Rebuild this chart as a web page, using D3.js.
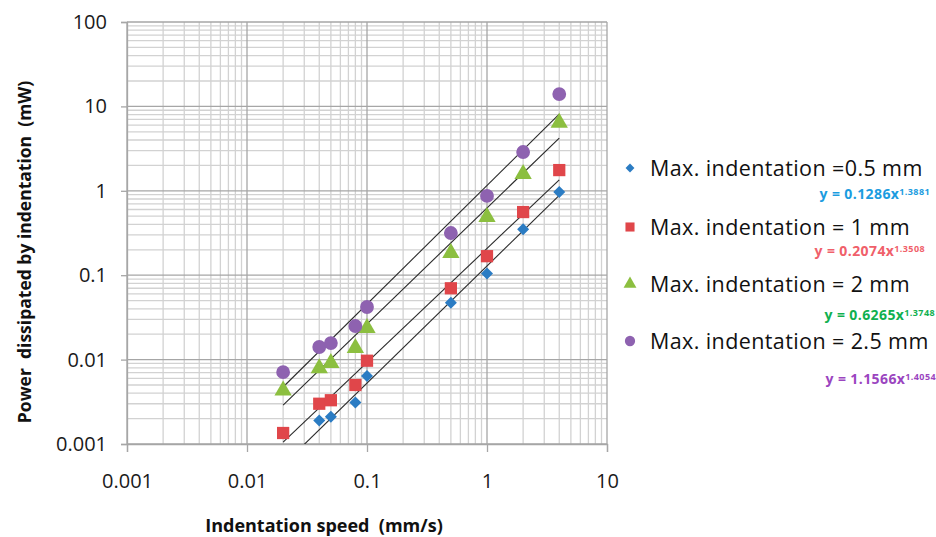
<!DOCTYPE html>
<html>
<head>
<meta charset="utf-8">
<script src="https://cdn.jsdelivr.net/npm/d3@7"></script>
<style>
  body { margin: 0; background: #fff; }
  svg text { font-family: "Open Sans", Lato, sans-serif; white-space: pre; }
</style>
</head>
<body>
<div id="chart"></div>
<script>
// data
var seriesNames = ["Max. indentation =0.5 mm", "Max. indentation = 1 mm", "Max. indentation = 2 mm", "Max. indentation = 2.5 mm"];
var speeds05 = [0.04, 0.05, 0.08, 0.1, 0.5, 1, 2, 4];
var power05 = [0.0019, 0.0021, 0.0031, 0.0064, 0.047, 0.105, 0.35, 0.97];
var speeds1 = [0.02, 0.04, 0.05, 0.08, 0.1, 0.5, 1, 2, 4];
var power1 = [0.00135, 0.003, 0.0033, 0.005, 0.0097, 0.07, 0.168, 0.56, 1.76];
var speeds2 = [0.02, 0.04, 0.05, 0.08, 0.1, 0.5, 1, 2, 4];
var power2 = [0.0043, 0.0079, 0.0091, 0.0137, 0.0237, 0.183, 0.49, 1.58, 6.4];
var speeds25 = [0.02, 0.04, 0.05, 0.08, 0.1, 0.5, 1, 2, 4];
var power25 = [0.0071, 0.0141, 0.0157, 0.025, 0.042, 0.316, 0.87, 2.88, 14.0];
var fitA = [0.1286, 0.2074, 0.6265, 1.1566];
var fitB = [1.3881, 1.3508, 1.3748, 1.4054];
var fitLabelA = ["0.1286", "0.2074", "0.6265", "1.1566"];
var fitLabelB = ["1.3881", "1.3508", "1.3748", "1.4054"];
var fitRange = [0.02, 4];
var xTicks = [0.001, 0.01, 0.1, 1, 10];
var yTicks = [0.001, 0.01, 0.1, 1, 10, 100];

var colors = ["#2b7cc3", "#e0464a", "#8cbf40", "#8e62b0"];
var eqColors = ["#1b9ce0", "#f0606a", "#10b050", "#9b45c0"];
var shapes = [d3.symbolSquare, d3.symbolSquare, d3.symbolTriangle, d3.symbolCircle];
var rot = [45, 0, 0, 0];
var sizes = [72, 150, 130, 150];

var series = [
  {speeds: speeds05, power: power05},
  {speeds: speeds1, power: power1},
  {speeds: speeds2, power: power2},
  {speeds: speeds25, power: power25}
];

var W = 936, H = 537;
var margin = {top: 22, left: 127, right: 329, bottom: 93};
var width = W - margin.left - margin.right;
var height = H - margin.top - margin.bottom;

var svg = d3.select("#chart").append("svg")
  .attr("width", W)
  .attr("height", H);

var x = d3.scaleLog().domain([0.001, 10]).range([0, width]);
var y = d3.scaleLog().domain([0.001, 100]).range([height, 0]);

var g = svg.append("g").attr("transform", "translate(" + margin.left + "," + margin.top + ")");

// minor grid
var minorX = [], minorY = [];
for (var e = -3; e < 1; e++) {
  for (var k = 2; k <= 9; k++) minorX.push(k * Math.pow(10, e));
}
for (var e = -3; e < 2; e++) {
  for (var k = 2; k <= 9; k++) minorY.push(k * Math.pow(10, e));
}
g.selectAll(".mx").data(minorX).enter().append("line")
  .attr("x1", function(d) { return x(d); }).attr("x2", function(d) { return x(d); })
  .attr("y1", 0).attr("y2", height)
  .attr("stroke", "#d2d2d2").attr("stroke-width", 1.3);
g.selectAll(".my").data(minorY).enter().append("line")
  .attr("y1", function(d) { return y(d); }).attr("y2", function(d) { return y(d); })
  .attr("x1", 0).attr("x2", width)
  .attr("stroke", "#d2d2d2").attr("stroke-width", 1.3);

// major grid
g.selectAll(".gx").data(xTicks).enter().append("line")
  .attr("x1", function(d) { return x(d); }).attr("x2", function(d) { return x(d); })
  .attr("y1", 0).attr("y2", height)
  .attr("stroke", "#a6a6a6").attr("stroke-width", 1.3);
g.selectAll(".gy").data(yTicks).enter().append("line")
  .attr("y1", function(d) { return y(d); }).attr("y2", function(d) { return y(d); })
  .attr("x1", 0).attr("x2", width)
  .attr("stroke", "#a6a6a6").attr("stroke-width", 1.3);

// axes
var xAxis = d3.axisBottom(x).tickValues(xTicks).tickFormat(function(d) { return String(d); })
  .tickSize(8).tickPadding(22);
var yAxis = d3.axisLeft(y).tickValues(yTicks).tickFormat(function(d) { return String(d); })
  .tickSize(6).tickPadding(14);

var gx = g.append("g").attr("transform", "translate(0," + height + ")").call(xAxis);
var gy = g.append("g").call(yAxis);
[gx, gy].forEach(function(a) {
  a.select(".domain").attr("stroke", "#a6a6a6").attr("stroke-width", 1.3);
  a.selectAll(".tick line").attr("stroke", "#a6a6a6").attr("stroke-width", 1.3);
  a.selectAll(".tick text").attr("fill", "#1a1a1a").style("font-size", "20px")
    .style("font-family", "'Open Sans', sans-serif");
});

// trend lines
var clip = svg.append("clipPath").attr("id", "plotclip")
  .append("rect").attr("width", width).attr("height", height);

var line = d3.line().x(function(d) { return x(d[0]); }).y(function(d) { return y(d[1]); });
fitA.forEach(function(a, i) {
  var pts = fitRange.map(function(s) { return [s, a * Math.pow(s, fitB[i])]; });
  g.append("path")
    .attr("d", line(pts))
    .attr("clip-path", "url(#plotclip)")
    .attr("fill", "none")
    .attr("stroke", "#2a2a2a")
    .attr("stroke-width", 1.1);
});

// points
series.forEach(function(s, i) {
  g.selectAll(".pt" + i).data(s.speeds).enter().append("path")
    .attr("d", d3.symbol().type(shapes[i]).size(sizes[i]))
    .attr("transform", function(d, j) { return "translate(" + x(d) + "," + y(s.power[j]) + ") rotate(" + rot[i] + ")"; })
    .attr("fill", colors[i]);
});

// legend
var legRows = [168, 227, 284, 341];
var eqRows = [194, 251, 315, 379];
var eqRight = [930, 925, 935, 936];
seriesNames.forEach(function(name, i) {
  svg.append("path")
    .attr("d", d3.symbol().type(shapes[i]).size(sizes[i] * 0.55))
    .attr("transform", "translate(630," + legRows[i] + ") rotate(" + rot[i] + ")")
    .attr("fill", colors[i]);
  svg.append("text")
    .attr("x", 650).attr("y", legRows[i])
    .attr("dy", "0.35em")
    .style("font-size", "21.5px")
    .style("letter-spacing", "0.4px")
    .attr("fill", "#111")
    .text(name);
  var t = svg.append("text")
    .attr("x", eqRight[i]).attr("y", eqRows[i])
    .attr("dy", "0.35em")
    .attr("text-anchor", "end")
    .style("font-size", "14px")
    .style("letter-spacing", "0.4px")
    .style("font-weight", "bold")
    .attr("fill", eqColors[i]);
  t.append("tspan").text("y = " + fitLabelA[i] + "x");
  t.append("tspan").attr("dy", "-0.45em").style("font-size", "9px").text(fitLabelB[i]);
});

// axis titles
svg.append("text")
  .attr("x", 324).attr("y", 532)
  .attr("text-anchor", "middle")
  .style("font-size", "18px")
  .style("font-weight", "bold")
  .attr("fill", "#111")
  .text("Indentation speed  (mm/s)");

svg.append("text")
  .attr("transform", "translate(31,252) rotate(-90)")
  .attr("text-anchor", "middle")
  .style("font-size", "17.5px")
  .style("font-weight", "bold")
  .attr("fill", "#111")
  .text("Power  dissipated by indentation  (mW)");
</script>
</body>
</html>
